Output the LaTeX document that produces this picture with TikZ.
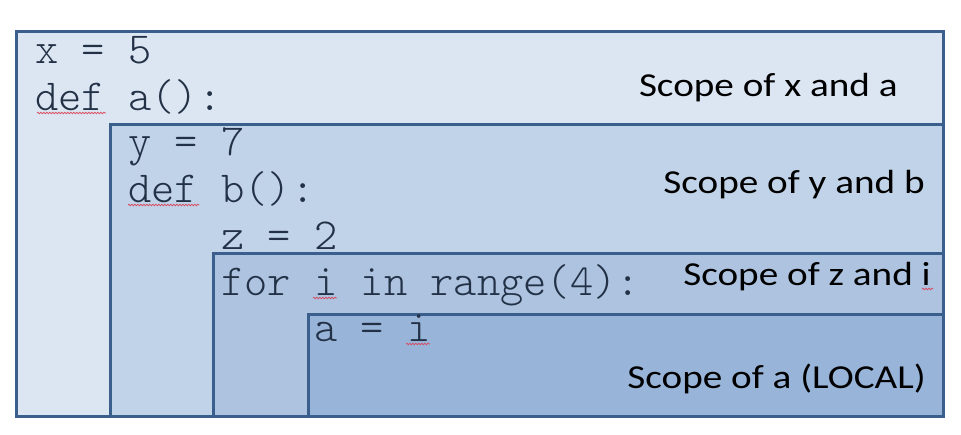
\documentclass[tikz,border=0pt]{standalone}
\usepackage{fontspec}
\setmainfont{Carlito}
\newfontfamily\codefont{Latin Modern Mono Light}
\usetikzlibrary{decorations.pathmorphing}
\definecolor{edgecol}{HTML}{3B5F8C}
\definecolor{fillA}{HTML}{DCE6F2}
\definecolor{fillB}{HTML}{C1D3E8}
\definecolor{fillC}{HTML}{ADC3E0}
\definecolor{fillD}{HTML}{98B4D9}
\definecolor{codecol}{HTML}{223146}
\definecolor{squig}{HTML}{D9455A}
\begin{document}
\begin{tikzpicture}[x=1pt,y=-1pt,
  scopebox/.style={draw=edgecol, line width=3pt, rectangle, inner sep=0pt, outer sep=0pt, anchor=north west},
  codeline/.style={font=\codefont\fontsize{44.3}{46}\selectfont, text=codecol, anchor=base west, inner sep=0pt},
  scopelabel/.style={font=\fontsize{33.5}{35}\selectfont, text=black, anchor=base east, inner sep=0pt},
  spell/.style={draw=squig, line width=0.7pt, decorate, decoration={snake, amplitude=0.8pt, segment length=3pt}}]
\useasboundingbox (0,0) rectangle (961,434);
% nested scope boxes
\node[scopebox, fill=fillA, minimum width=927pt, minimum height=385pt] (outer) at (16,31) {};
\node[scopebox, fill=fillB, minimum width=833pt, minimum height=292pt] (scopeb) at (110,124) {};
\node[scopebox, fill=fillC, minimum width=730pt, minimum height=163pt] (scopec) at (213,253) {};
\node[scopebox, fill=fillD, minimum width=635pt, minimum height=102pt] (scoped) at (308,314) {};
% code
\node[codeline] (l1) at (35,63) {x = 5};
\node[codeline] (l2) at (35,110) {def a():};
\node[codeline] (l3) at (128,155) {y = 7};
\node[codeline] (l4) at (128,202) {def b():};
\node[codeline] (l5) at (221,249) {z = 2};
\node[codeline] (l6) at (221,295) {for i in range(4):};
\node[codeline] (l7) at (314,341) {a = i};
% labels
\node[scopelabel] (sx) at (898,96) {\scalebox{1.17}[1]{Scope of x and a}};
\node[scopelabel] (sy) at (925,193) {\scalebox{1.17}[1]{Scope of y and b}};
\node[scopelabel] (sz) at (931,285) {\scalebox{1.17}[1]{Scope of z and i}};
\node[scopelabel] (sa) at (926,388) {\scalebox{1.17}[1]{Scope of a (LOCAL)}};
% spell-check squiggles
\draw[spell] (37,113) -- (106,113);
\draw[spell] (128,205) -- (199,205);
\draw[spell] (313,298) -- (337,298);
\draw[spell] (406,344) -- (430,344);
\draw[spell] (922,289) -- (933,289);
\end{tikzpicture}
\end{document}
